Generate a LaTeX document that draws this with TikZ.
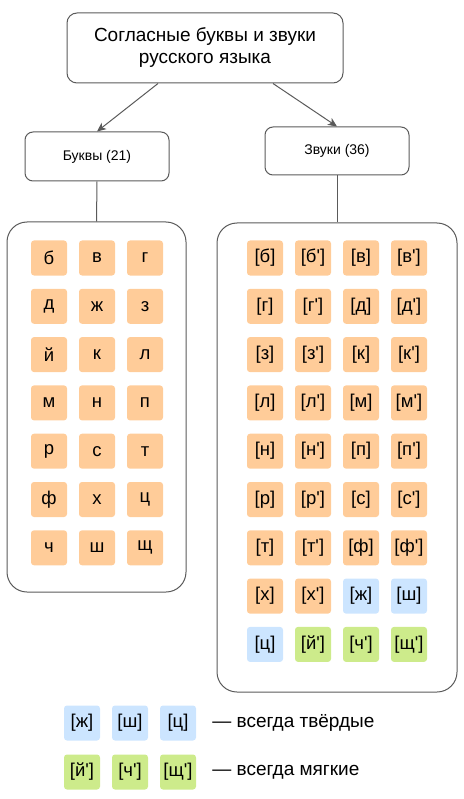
\documentclass[tikz,border=0pt]{standalone}
\usepackage{fontspec}
\setmainfont{Liberation Sans}
\usetikzlibrary{arrows.meta}
\definecolor{CellOrange}{HTML}{FFCC99}
\definecolor{CellBlue}{HTML}{CCE5FF}
\definecolor{CellGreen}{HTML}{CDEB8B}
\definecolor{LineGray}{HTML}{5A5A5A}
\newcommand{\ap}{\textquotesingle}

\begin{document}
\begin{tikzpicture}[x=1pt,y=-1pt,
  frame/.style={draw=LineGray,line width=1pt,rounded corners=#1,inner sep=0pt,align=center},
  cell/.style={fill=#1,rounded corners=3pt,minimum width=36pt,minimum height=35pt,inner sep=0pt,font=\fontsize{18.5}{22}\selectfont},
  link/.style={LineGray,line width=1pt},
  >={Stealth[length=9pt,width=8pt,inset=2.5pt]}]
  \useasboundingbox (0,0) rectangle (463,799);
  \node[frame=10pt,minimum width=276pt,minimum height=70pt,font=\fontsize{19}{22}\selectfont] (title) at (205,48) {Согласные буквы и звуки\\русского языка};
  \node[frame=8pt,minimum width=144pt,minimum height=49pt,font=\fontsize{14}{16}\selectfont] (bukvy) at (97,156.5) {Буквы (21)};
  \node[frame=8pt,minimum width=144pt,minimum height=48pt,font=\fontsize{14}{16}\selectfont] (zvuki) at (337,151) {Звуки (36)};
  \draw[->,link] ([xshift=-47pt]title.south) -- (bukvy.north); \draw[->,link] ([xshift=68pt]title.south) -- (zvuki.north);
  \node[frame=20pt,minimum width=179pt,minimum height=370pt] (lset) at (96.5,407) {};
  \node[frame=20pt,minimum width=240pt,minimum height=469pt] (zset) at (337,457.5) {};
  \draw[link] (bukvy.south) -- (lset.north); \draw[link] (zvuki.south) -- (zset.north);
  % letters
  \foreach \row [count=\r from 0] in {{б,в,г},{д,ж,з},{й,к,л},{м,н,п},{р,с,т},{ф,х,ц},{ч,ш,щ}}
    \foreach \s [count=\c from 0] in \row
      \node[cell=CellOrange] (b-\r-\c) at (49+48*\c,258+48.3*\r) {\s};
  % sounds
  \foreach \s/\col [count=\i from 0] in {б/CellOrange,б\ap/CellOrange,в/CellOrange,в\ap/CellOrange,
      г/CellOrange,г\ap/CellOrange,д/CellOrange,д\ap/CellOrange,з/CellOrange,з\ap/CellOrange,к/CellOrange,к\ap/CellOrange,
      л/CellOrange,л\ap/CellOrange,м/CellOrange,м\ap/CellOrange,н/CellOrange,н\ap/CellOrange,п/CellOrange,п\ap/CellOrange,
      р/CellOrange,р\ap/CellOrange,с/CellOrange,с\ap/CellOrange,т/CellOrange,т\ap/CellOrange,ф/CellOrange,ф\ap/CellOrange,
      х/CellOrange,х\ap/CellOrange,ж/CellBlue,ш/CellBlue,ц/CellBlue,й\ap/CellGreen,ч\ap/CellGreen,щ\ap/CellGreen}{
    \pgfmathtruncatemacro\r{\i/4}\pgfmathtruncatemacro\c{mod(\i,4)}
    \node[cell=\col] (z-\r-\c) at (265+48*\c,258+48.3*\r) {[\s]};}
  % legend
  \foreach \s [count=\c from 0] in {ж,ш,ц} \node[cell=CellBlue] (hard-\c) at (82+48*\c,723) {[\s]};
  \foreach \s [count=\c from 0] in {й\ap,ч\ap,щ\ap} \node[cell=CellGreen] (soft-\c) at (82+48*\c,772) {[\s]};
  \node[anchor=west,inner sep=0pt,font=\fontsize{19}{22}\selectfont] (hardtxt) at ([xshift=16pt]hard-2.east) {— всегда твёрдые};
  \node[anchor=west,inner sep=0pt,font=\fontsize{19}{22}\selectfont] (softtxt) at ([xshift=16pt]soft-2.east) {— всегда мягкие};
\end{tikzpicture}
\end{document}
